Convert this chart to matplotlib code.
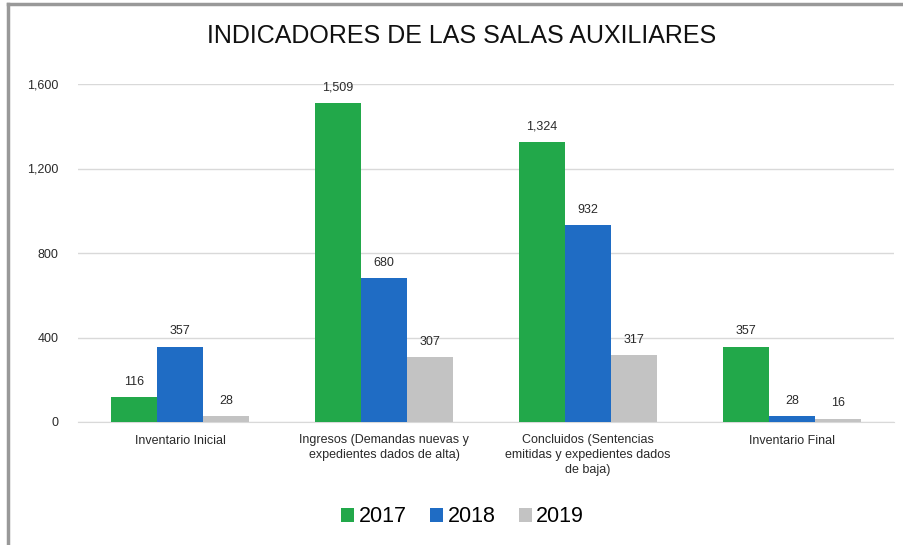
import numpy as np
import matplotlib.pyplot as plt
from matplotlib.lines import Line2D

plt.rcParams['font.family'] = ['Liberation Sans', 'DejaVu Sans']

# categories and values
categories = ['Inventario Inicial',
              'Ingresos (Demandas nuevas y\nexpedientes dados de alta)',
              'Concluidos (Sentencias\nemitidas y expedientes dados\nde baja)',
              'Inventario Final']
years = ['2017', '2018', '2019']
v2017 = [116, 1509, 1324, 357]
v2018 = [357, 680, 932, 28]
v2019 = [28, 307, 317, 16]
colors = ['#22a84a', '#1f6cc4', '#c3c3c3']

fig = plt.figure(figsize=(9.04, 5.45), dpi=100)
ax = fig.add_axes([78 / 904, 1 - 422 / 545, (894 - 78) / 904, (422 - 84) / 545])

x = np.arange(len(categories))
w = 0.225
for i, (vals, lab, col) in enumerate(zip([v2017, v2018, v2019], years, colors)):
    bars = ax.bar(x + (i - 1) * w, vals, width=w, color=col, label=lab, zorder=3)
    for b, v in zip(bars, vals):
        ax.text(b.get_x() + b.get_width() / 2, v + 45, f'{v:,}', ha='center', va='bottom',
                fontsize=9, color='#2a2a2a')

ax.set_xlim(-0.5, len(categories) - 0.5)
ax.set_ylim(0, 1600)
ax.set_yticks([0, 400, 800, 1200, 1600])
ax.yaxis.set_major_formatter(plt.FuncFormatter(lambda v, p: f'{int(v):,}'))
ax.grid(axis='y', color='#d9d9d9', lw=1, zorder=0)
for s in ['top', 'right', 'left']:
    ax.spines[s].set_visible(False)
ax.spines['bottom'].set_color('#d9d9d9')
ax.tick_params(axis='both', length=0, labelsize=9, colors='#2a2a2a')
ax.tick_params(axis='y', pad=14)
ax.tick_params(axis='x', pad=9)
ax.set_xticks(x)
ax.set_xticklabels(categories, fontsize=9, linespacing=1.3)

fig.text(462 / 904, 1 - 36 / 545, 'INDICADORES DE LAS SALAS AUXILIARES', ha='center', va='center',
         fontsize=18, color='#111111')

ax.legend(loc='center', bbox_to_anchor=(0.512, 1 - 517 / 545), bbox_transform=fig.transFigure,
          ncol=3, frameon=False, fontsize=15.5, handlelength=0.6, handleheight=0.6,
          handletextpad=0.2, columnspacing=1.1)

# outer frame of the original picture
fig.add_artist(Line2D([8 / 904, 8 / 904], [0, 1 - 4 / 545], color='#999999', lw=2.5))
fig.add_artist(Line2D([8 / 904, 1], [1 - 4 / 545, 1 - 4 / 545], color='#999999', lw=2.5))

fig.savefig('out.png', dpi=100)
